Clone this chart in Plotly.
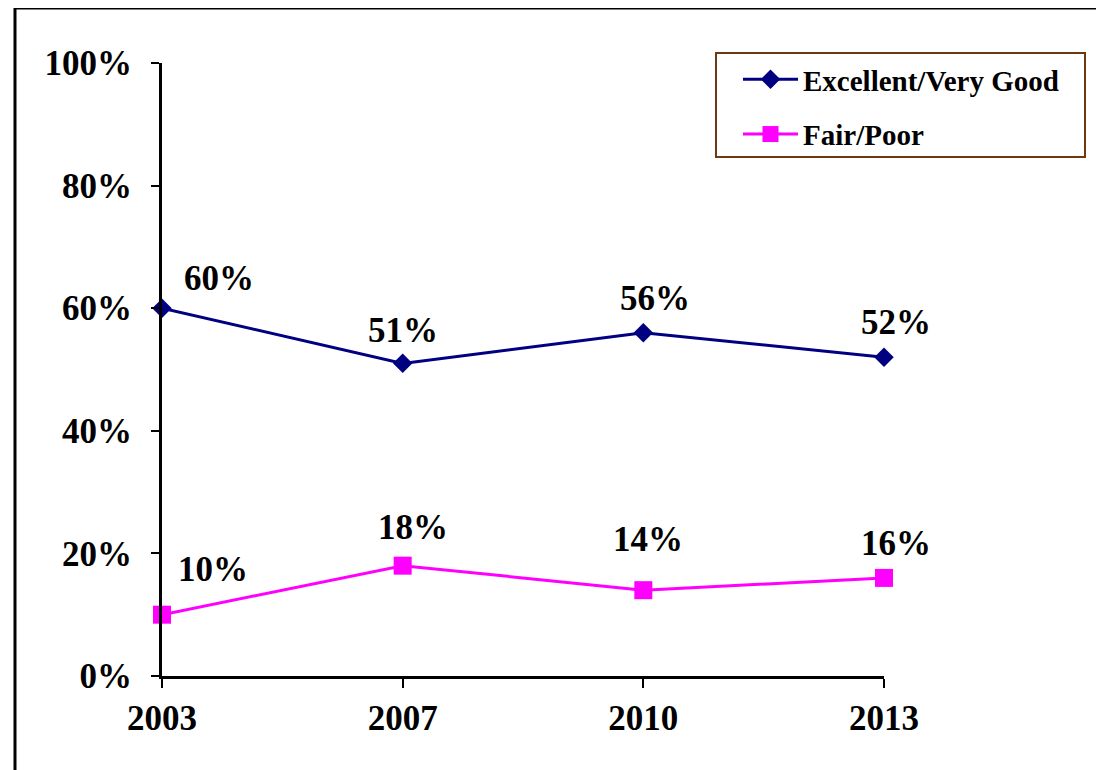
import plotly.graph_objects as go

years = ["2003", "2007", "2010", "2013"]
excellent = [0.60, 0.51, 0.56, 0.52]
fair = [0.10, 0.18, 0.14, 0.16]
series_names = ["Excellent/Very Good", "Fair/Poor"]

# label offsets in pixels (style)
exc_off = [(57, 30), (0, 33), (12, 34), (12, 35)]
fair_off = [(51, 45), (10, 38), (5, 51), (12, 34)]

FONT = "Liberation Serif, Times New Roman, serif"
OFF = 8  # page body margin
W, H = 1104 - OFF, 770 - OFF
# plot area in page pixels
PL, PR, PT, PB = 162, 884, 63, 676
L, R, T, B = PL - OFF, W - (PR - OFF), PT - OFF, H - (PB - OFF)

fig = go.Figure()
fig.add_trace(go.Scatter(
    x=years, y=excellent, name=series_names[0], mode="lines+markers",
    line=dict(color="#000080", width=3),
    marker=dict(symbol="diamond", size=15, color="#000080"),
    legendgroup="a", cliponaxis=False,
))
fig.add_trace(go.Scatter(
    x=years, y=fair, name=series_names[1], mode="lines+markers",
    line=dict(color="#FF00FF", width=3),
    marker=dict(symbol="square", size=18, color="#FF00FF"),
    legendgroup="b", cliponaxis=False,
))

annots = []
for vals, offs in ((excellent, exc_off), (fair, fair_off)):
    for i, (v, (dx, dy)) in enumerate(zip(vals, offs)):
        annots.append(dict(
            x=i, y=v, xref="x", yref="y", text=f"{round(v*100)}%",
            showarrow=False, xshift=dx, yshift=dy,
            font=dict(family=FONT, size=35, color="black", weight="bold"),
        ))

pw = PR - PL
ph = PB - PT
def px_x(p):
    return (p - PL) / pw
def px_y(p):
    return (PB - p) / ph

fig.update_layout(
    width=W, height=H,
    margin=dict(l=L, r=R, t=T, b=B, pad=0),
    paper_bgcolor="white", plot_bgcolor="white",
    font=dict(family=FONT, color="black"),
    showlegend=True,
    legend=dict(
        x=px_x(738), y=px_y(54), xanchor="left", yanchor="top",
        bgcolor="rgba(0,0,0,0)", borderwidth=0,
        font=dict(family=FONT, size=29, color="black", weight="bold"),
        itemwidth=55, tracegroupgap=14,
    ),
    annotations=annots,
    shapes=[
        dict(type="rect", xref="paper", yref="paper",
             x0=px_x(716), x1=px_x(1085), y0=px_y(157), y1=px_y(53),
             line=dict(color="#6B3A12", width=2), fillcolor="rgba(0,0,0,0)"),
        dict(type="rect", xref="paper", yref="paper",
             x0=px_x(15), x1=px_x(1200), y0=px_y(900), y1=px_y(8),
             line=dict(color="black", width=3), fillcolor="rgba(0,0,0,0)"),
    ],
)
fig.update_xaxes(
    type="category", range=[0, 3],
    showline=True, linecolor="black", linewidth=3,
    ticks="outside", ticklen=9, tickwidth=2, tickcolor="black",
    showgrid=False, zeroline=False,
    tickfont=dict(family=FONT, size=35, color="black", weight="bold"),
    ticklabelstandoff=0,
)
fig.update_yaxes(
    range=[0, 1], tickvals=[0, 0.2, 0.4, 0.6, 0.8, 1.0], tickformat=".0%",
    showline=True, linecolor="black", linewidth=3,
    ticks="outside", ticklen=8, tickwidth=2, tickcolor="black",
    showgrid=False, zeroline=False,
    tickfont=dict(family=FONT, size=35, color="black", weight="bold"),
    ticklabelstandoff=12,
)

fig.write_html("out.html")
